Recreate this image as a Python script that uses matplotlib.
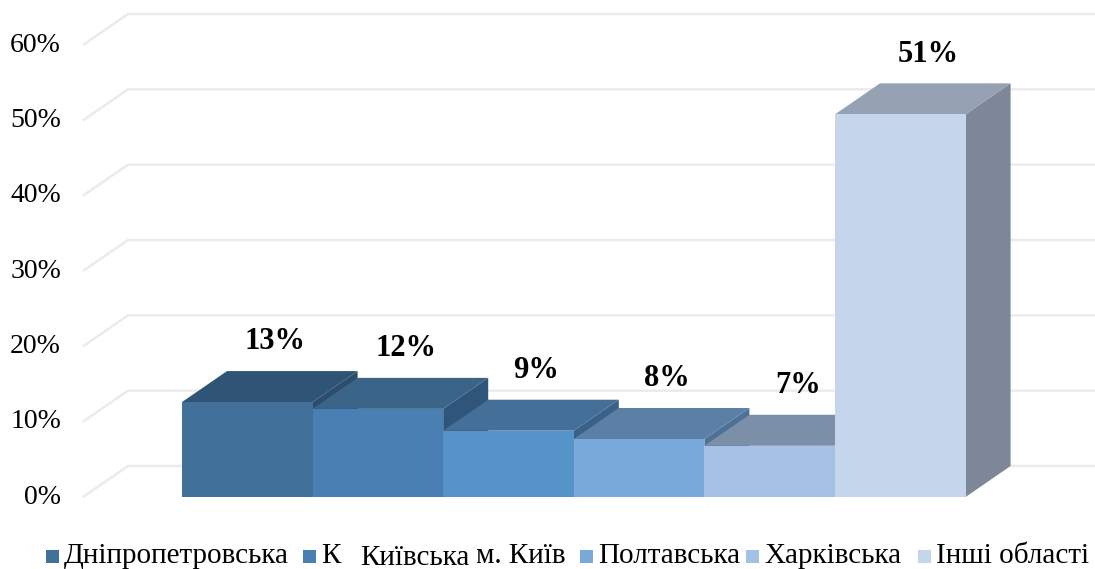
import matplotlib
matplotlib.use("Agg")
from matplotlib import pyplot as plt
from matplotlib.patches import Polygon, Rectangle

regions = ["Дніпропетровська", "Київська", "м. Київ", "Полтавська", "Харківська", "Інші області"]
shares = [12.6, 11.7, 8.8, 7.7, 6.8, 50.8]
share_labels = ["13%", "12%", "9%", "8%", "7%", "51%"]
y_ticks = [0, 10, 20, 30, 40, 50, 60]

front_colors = ["#41709a", "#4a7fb4", "#5593c9", "#79a9db", "#a4c1e5", "#c5d5eb"]
top_colors = ["#2f5476", "#3a6488", "#446f99", "#5b7fa5", "#7b8fa8", "#96a2b3"]
side_colors = ["#2c4d6b", "#30557a", "#3a6289", "#4e7296", "#6b7f98", "#7e8797"]

W, H = 1095, 569
plt.rcParams["font.family"] = ["Liberation Serif", "DejaVu Serif"]

fig = plt.figure(figsize=(W / 100, H / 100), dpi=100)
ax = fig.add_axes([0, 0, 1, 1])
ax.axis("off")

# pixel mapping: bar width 130.6 px, bar 0 starts at x=182; 0% front at y=497, 7.533 px per %
bw_px, x0_px = 130.6, 182
py_per, y0_px = 7.533, H - 497
ax.set_xlim(-x0_px / bw_px, (W - x0_px) / bw_px)
ax.set_ylim(-y0_px / py_per, (H - y0_px) / py_per)

dx = 45 / bw_px
dy = 31 / py_per
grid_left = (83 - x0_px) / bw_px
x_right = (W - x0_px) / bw_px

# walls / gridlines
for v in y_ticks:
    ax.plot([grid_left, grid_left + dx, x_right], [v, v + dy, v + dy],
            color="#ebebeb", lw=1.8, zorder=1, solid_capstyle="butt")
    ax.text((61 - x0_px) / bw_px, v, f"{v}%", ha="right", va="center",
            fontsize=20, color="#000000")

# bars, left to right so each one hides the right side of the previous
for i, v in enumerate(shares):
    z = 2 + i
    ax.add_patch(Polygon([(i + 1, 0), (i + 1 + dx, dy), (i + 1 + dx, v + dy), (i + 1, v)],
                         closed=True, facecolor=side_colors[i], edgecolor="none", zorder=z))
    ax.add_patch(Polygon([(i, v), (i + 1, v), (i + 1 + dx, v + dy), (i + dx, v + dy)],
                         closed=True, facecolor=top_colors[i], edgecolor="none", zorder=z))
    ax.add_patch(Rectangle((i, 0), 1, v, facecolor=front_colors[i], edgecolor="none", zorder=z))
    ax.annotate(share_labels[i], (i + 0.5 + dx / 2, v + dy), xytext=(4, 21),
                textcoords="offset points", ha="center", va="center",
                fontsize=22, fontweight="bold", zorder=20)

# legend drawn by hand (the "Київська" label sits lower on a white box, as in the source)
leg_y = (H - 556) / H
sq = 13
legend_x = [46, 303, 458, 580, 746, 918]
legend_text = ["Дніпропетровська", "К", "м. Київ", "Полтавська", "Харківська", "Інші області"]
for i, (lx, txt) in enumerate(zip(legend_x, legend_text)):
    fig.patches.append(Rectangle(((lx) / W, leg_y - sq / 2 / H), sq / W, sq / H,
                                 transform=fig.transFigure, facecolor=front_colors[i],
                                 edgecolor="none"))
    fig.text((lx + 18) / W, leg_y, txt, ha="left", va="center", fontsize=21)
fig.text(360 / W, (H - 558) / H, regions[1], ha="left", va="center", fontsize=21,
         bbox=dict(boxstyle="square,pad=0.25", facecolor="white", edgecolor="none"))

fig.savefig("out.png", dpi=100)
